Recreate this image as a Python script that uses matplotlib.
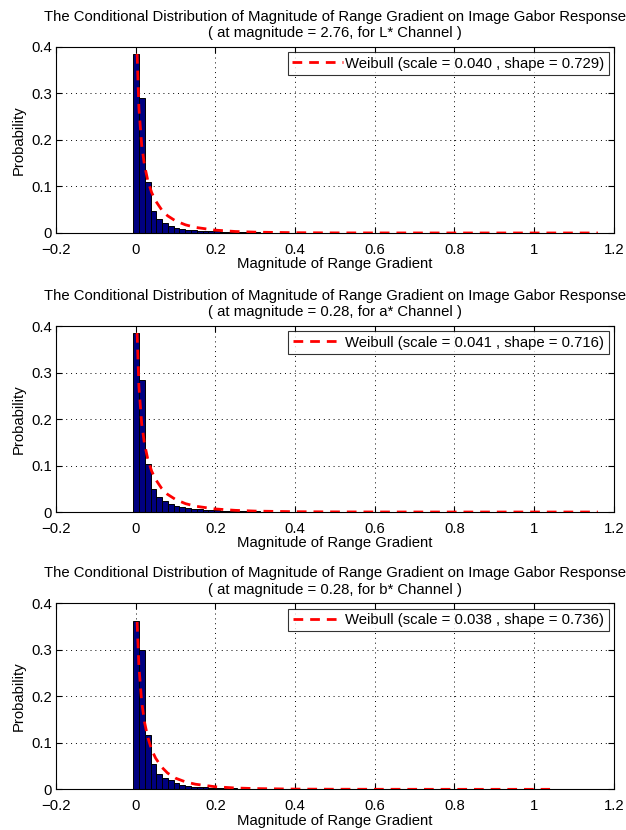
import matplotlib
matplotlib.use("Agg")
import matplotlib.pyplot as plt
import numpy as np

plt.rcParams['font.family'] = ['Liberation Sans', 'DejaVu Sans']

# histogram bins (width ~0.0145, first centre just above 0)
bin_width = 0.0145
first_center = 0.001

hist_L = [0.385, 0.290, 0.110, 0.047, 0.030, 0.021, 0.015, 0.011, 0.0086, 0.007,
          0.006, 0.005, 0.0043, 0.0037, 0.0032, 0.0027, 0.0023, 0.002, 0.0017, 0.0015,
          0.0013, 0.0011, 0.001, 0.0009, 0.0008, 0.0007, 0.0006, 0.0005, 0.0004, 0.0004,
          0.0003, 0.0003, 0.0002, 0.0002]
hist_a = [0.384, 0.284, 0.103, 0.049, 0.0315, 0.023, 0.018, 0.013, 0.010, 0.008,
          0.0068, 0.0058, 0.005, 0.0043, 0.0037, 0.0032, 0.0027, 0.0023, 0.002, 0.0017,
          0.0015, 0.0013, 0.0011, 0.001, 0.0009, 0.0008, 0.0007, 0.0006, 0.0005, 0.0004,
          0.0004, 0.0003, 0.0003, 0.0002]
hist_b = [0.362, 0.300, 0.116, 0.054, 0.034, 0.024, 0.019, 0.013, 0.009, 0.007,
          0.006, 0.005, 0.0042, 0.0036, 0.0031, 0.0026, 0.0022, 0.0019, 0.0016, 0.0014,
          0.0012, 0.001, 0.0009, 0.0008, 0.0007, 0.0006, 0.0005, 0.0004, 0.0004, 0.0003,
          0.0003, 0.0002, 0.0002, 0.0002]

# fitted Weibull curves
fit_x_L = [0.0035, 0.008, 0.015, 0.022, 0.03, 0.04, 0.05, 0.065, 0.08, 0.1, 0.125,
           0.15, 0.2, 0.25, 0.3, 0.4, 0.5, 0.6, 0.8, 1.0, 1.16]
fit_y_L = [0.385, 0.269, 0.189, 0.146, 0.114, 0.087, 0.069, 0.050, 0.037, 0.026, 0.0175,
           0.012, 0.0061, 0.0032, 0.0018, 0.0006, 0.0002, 0.0001, 0.0, 0.0, 0.0]
fit_x_a = [0.0035, 0.008, 0.015, 0.022, 0.03, 0.04, 0.05, 0.065, 0.08, 0.1, 0.125,
           0.15, 0.2, 0.25, 0.3, 0.4, 0.5, 0.6, 0.8, 1.0, 1.16]
fit_y_a = [0.385, 0.270, 0.190, 0.147, 0.115, 0.088, 0.070, 0.051, 0.038, 0.027, 0.018,
           0.0125, 0.0066, 0.0036, 0.002, 0.0007, 0.0003, 0.0001, 0.0, 0.0, 0.0]
fit_x_b = [0.0035, 0.008, 0.015, 0.022, 0.03, 0.04, 0.05, 0.065, 0.08, 0.1, 0.125,
           0.15, 0.2, 0.25, 0.3, 0.4, 0.5, 0.6, 0.8, 0.9, 1.04]
fit_y_b = [0.360, 0.265, 0.188, 0.145, 0.113, 0.085, 0.067, 0.048, 0.035, 0.024, 0.016,
           0.011, 0.0055, 0.0029, 0.0016, 0.0005, 0.0002, 0.0001, 0.0, 0.0, 0.0]

subtitles = ['( at magnitude = 2.76, for L* Channel )',
             '( at magnitude = 0.28, for a* Channel )',
             '( at magnitude = 0.28, for b* Channel )']
legend_labels = ['Weibull (scale = 0.040 , shape = 0.729)',
                 'Weibull (scale = 0.041 , shape = 0.716)',
                 'Weibull (scale = 0.038 , shape = 0.736)']
hists = [hist_L, hist_a, hist_b]
fits = [(fit_x_L, fit_y_L), (fit_x_a, fit_y_a), (fit_x_b, fit_y_b)]

xticks = [-0.2, 0, 0.2, 0.4, 0.6, 0.8, 1, 1.2]
xtick_labels = ['\u22120.2', '0', '0.2', '0.4', '0.6', '0.8', '1', '1.2']
yticks = [0, 0.1, 0.2, 0.3, 0.4]
ytick_labels = ['0', '0.1', '0.2', '0.3', '0.4']

fs = 10.7
fig = plt.figure(figsize=(6.26, 8.30), dpi=100)
bottoms = [0.7193, 0.3831, 0.049]

for i in range(3):
    ax = fig.add_axes([0.0895, bottoms[i], 0.891, 0.2241])
    h = hists[i]
    centers = first_center + bin_width * np.arange(len(h))
    ax.bar(centers, h, width=bin_width, color='#000080', edgecolor='black',
           linewidth=0.7, zorder=2)
    fx, fy = fits[i]
    ax.plot(fx, fy, color='red', linestyle=(0, (3.5, 2.5)), linewidth=2,
            label=legend_labels[i], zorder=3)

    ax.set_xlim(-0.2, 1.2)
    ax.set_ylim(0, 0.4)
    ax.set_xticks(xticks)
    ax.set_xticklabels(xtick_labels)
    ax.set_yticks(yticks)
    ax.set_yticklabels(ytick_labels)
    ax.tick_params(direction='in', labelsize=fs, length=4, top=True, right=True)
    ax.tick_params(axis='x', pad=7)
    ax.tick_params(axis='y', pad=3)
    ax.grid(True, linestyle=(0, (1, 4)), color='black', linewidth=0.7, zorder=0)
    ax.set_axisbelow(True)
    for s in ax.spines.values():
        s.set_linewidth(0.8)

    ax.set_title('The Conditional Distribution of Magnitude of Range Gradient on Image Gabor Response\n'
                 + subtitles[i], fontsize=fs, linespacing=1.2, pad=7)
    ax.set_xlabel('Magnitude of Range Gradient', fontsize=fs, labelpad=0.5)
    ax.set_ylabel('Probability', fontsize=fs, labelpad=4)

    leg = ax.legend(loc='upper right', fontsize=fs, frameon=True, fancybox=False,
                    borderpad=0.3, handlelength=3.4, handletextpad=0.15,
                    borderaxespad=0.35)
    leg.get_frame().set_edgecolor('black')
    leg.get_frame().set_linewidth(0.8)

fig.savefig('out.png', dpi=100)
